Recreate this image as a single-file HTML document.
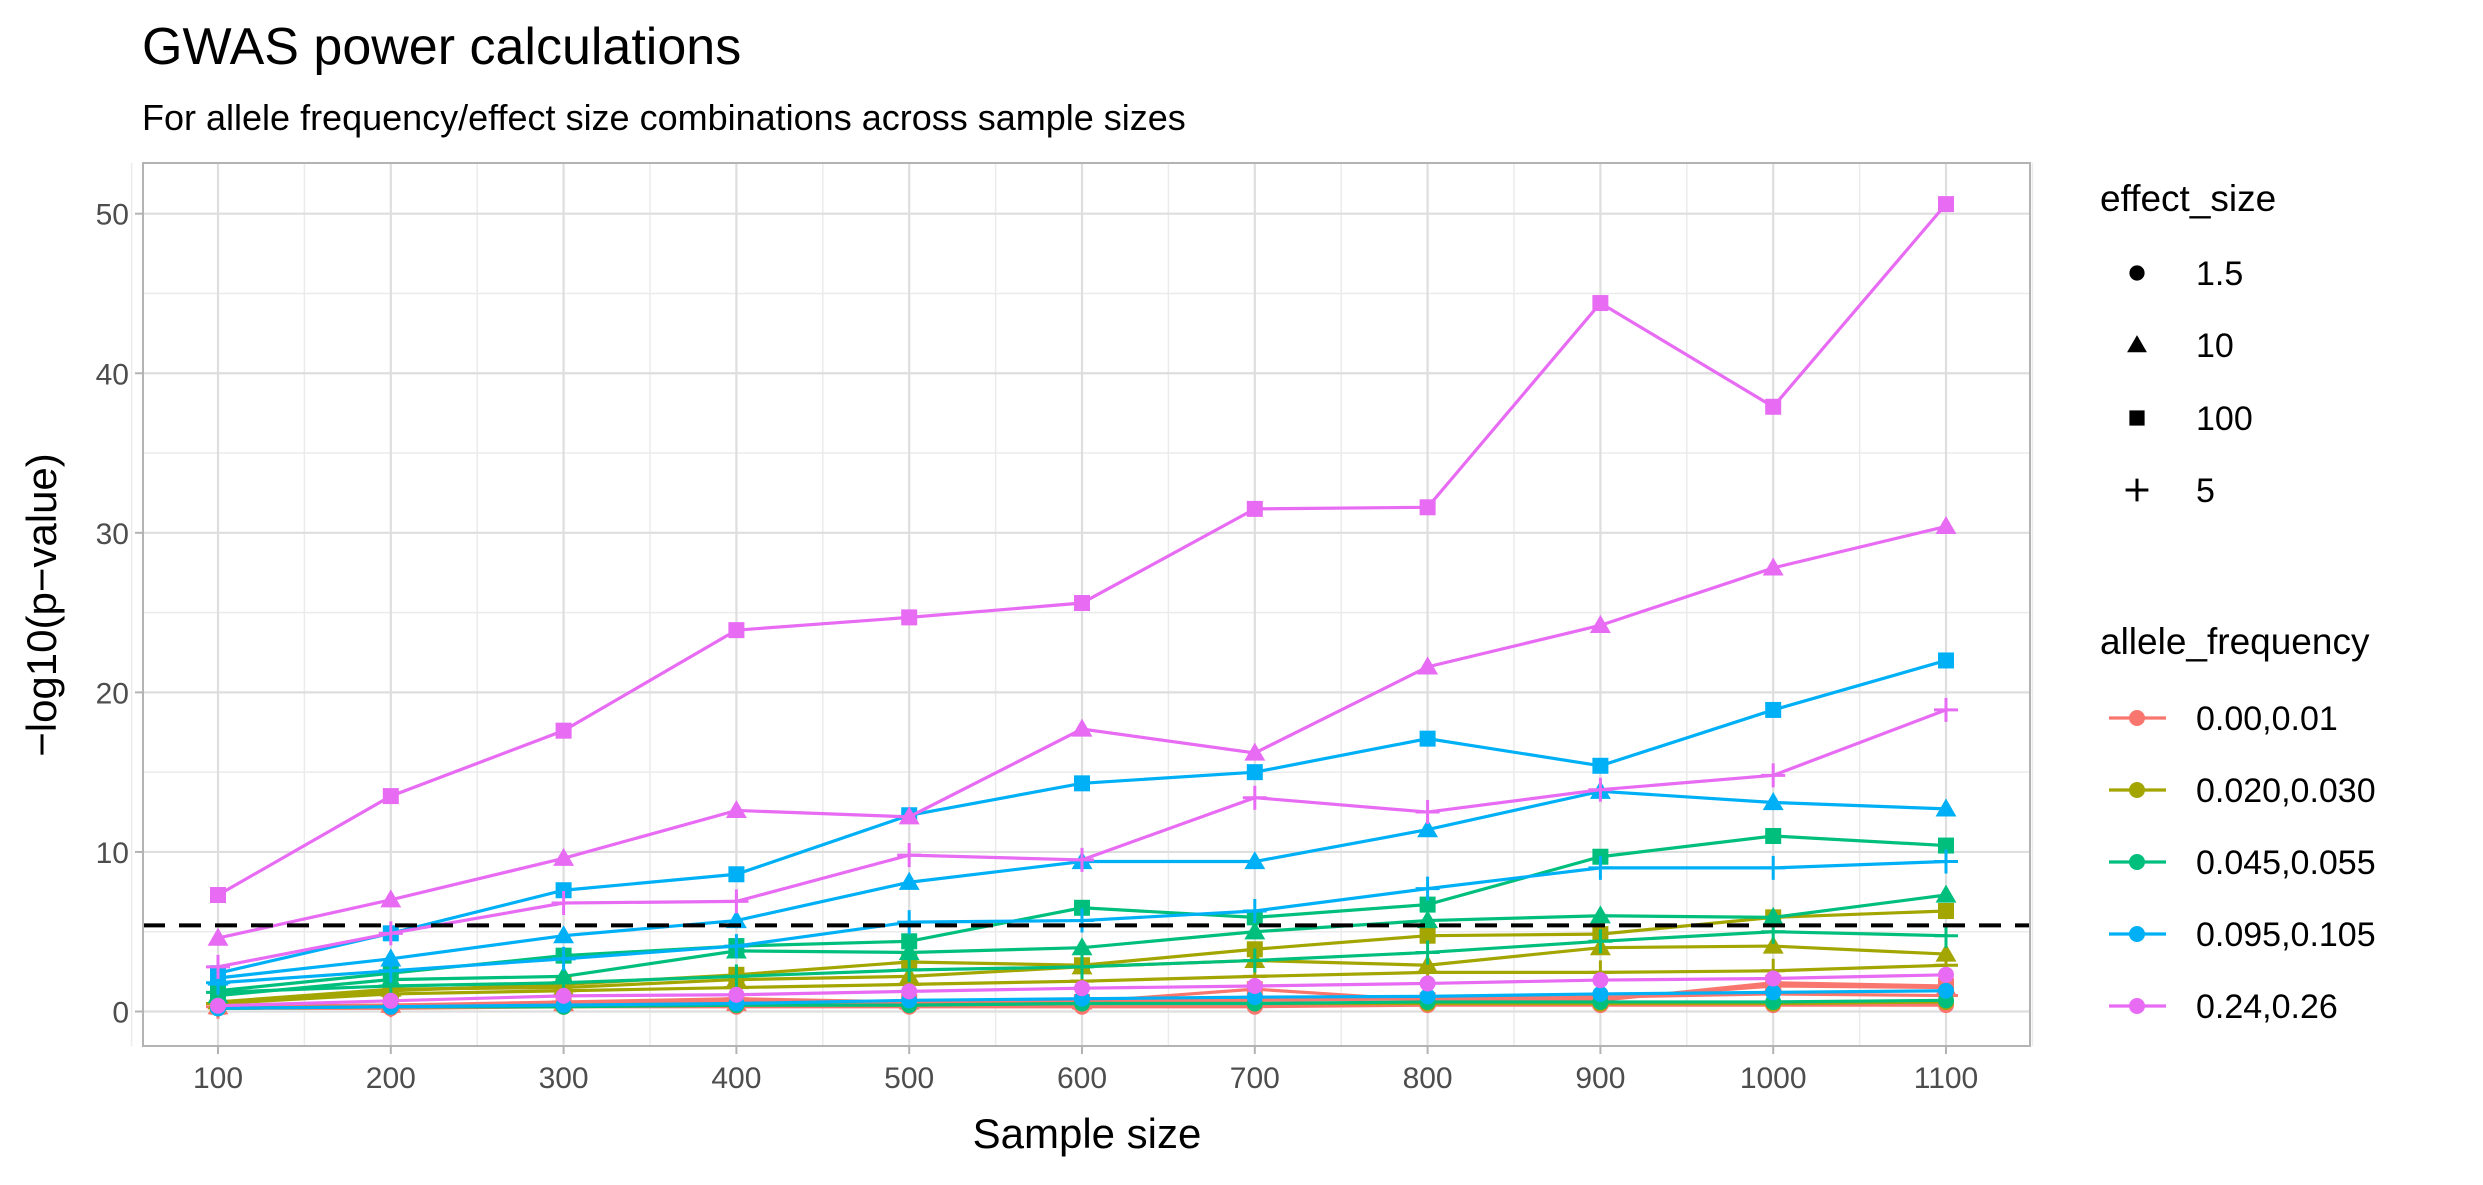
<!DOCTYPE html>
<html><head><meta charset="utf-8"><style>
html,body{margin:0;padding:0;background:#fff;}
svg{display:block;font-family:"Liberation Sans",Arial,sans-serif;}
</style></head><body>
<svg id="chart" width="2483" height="1185" viewBox="0 0 2483 1185" xmlns="http://www.w3.org/2000/svg">
<text x="142" y="64" font-size="52" fill="#000">GWAS power calculations</text>
<text x="142" y="130" font-size="36" fill="#000">For allele frequency/effect size combinations across sample sizes</text>
<g id="plot"></g>
<text x="1087" y="1148" font-size="42" text-anchor="middle" fill="#000">Sample size</text>
<text transform="translate(56,605) rotate(-90)" font-size="42" text-anchor="middle" fill="#000">−log10(p−value)</text>
<g id="legend"></g>
</svg>
<script>
const sampleSizes=[100,200,300,400,500,600,700,800,900,1000,1100];
const freqLabels=["0.00,0.01","0.020,0.030","0.045,0.055","0.095,0.105","0.24,0.26"];
const effectLabels=["1.5","10","100","5"];
const yTicks=[0,10,20,30,40,50];
const xTicks=[100,200,300,400,500,600,700,800,900,1000,1100];
const threshold=5.4;
const red_1_5=[0.2,0.2,0.3,0.3,0.3,0.3,0.3,0.4,0.4,0.4,0.4];
const red_10=[0.3,0.4,0.5,0.5,0.6,0.6,0.7,0.8,0.8,1.6,1.5];
const red_100=[0.3,0.4,0.5,0.6,0.6,0.6,1.4,0.7,0.7,1.8,1.6];
const red_5=[0.3,0.4,0.6,0.8,0.6,0.7,0.8,0.9,0.9,1.1,1.0];
const olive_1_5=[0.2,0.3,0.3,0.4,0.4,0.5,0.5,0.5,0.5,0.5,0.6];
const olive_10=[0.6,1.4,1.5,2.0,2.2,2.8,3.2,2.9,4.0,4.1,3.6];
const olive_100=[0.5,1.3,1.7,2.3,3.1,2.9,3.9,4.75,4.85,5.9,6.3];
const olive_5=[0.5,1.1,1.3,1.5,1.7,1.9,2.2,2.45,2.45,2.55,2.9];
const green_1_5=[0.2,0.3,0.3,0.4,0.4,0.5,0.5,0.6,0.6,0.6,0.7];
const green_10=[1.0,2.0,2.2,3.8,3.7,4.0,5.0,5.7,6.0,5.9,7.3];
const green_100=[1.3,2.4,3.5,4.1,4.4,6.5,5.9,6.7,9.7,11.0,10.4];
const green_5=[1.2,1.6,1.8,2.2,2.6,2.8,3.2,3.7,4.4,5.0,4.75];
const blue_1_5=[0.2,0.3,0.4,0.5,0.7,0.8,0.9,0.95,1.1,1.2,1.3];
const blue_10=[2.1,3.3,4.75,5.7,8.1,9.4,9.4,11.4,13.8,13.1,12.7];
const blue_100=[2.4,4.9,7.6,8.6,12.3,14.3,15.0,17.1,15.4,18.9,22.0];
const blue_5=[1.8,2.55,3.3,4.1,5.6,5.7,6.3,7.7,9.0,9.0,9.4];
const pink_1_5=[0.36,0.67,0.98,1.05,1.26,1.46,1.6,1.76,1.97,2.07,2.3];
const pink_10=[4.6,7.0,9.6,12.6,12.2,17.7,16.2,21.6,24.2,27.8,30.4];
const pink_100=[7.3,13.5,17.6,23.9,24.7,25.6,31.5,31.6,44.4,37.9,50.6];
const pink_5=[2.8,4.9,6.8,6.9,9.8,9.5,13.4,12.5,13.9,14.8,18.9];

const series=[
 [red_1_5,red_10,red_100,red_5],
 [olive_1_5,olive_10,olive_100,olive_5],
 [green_1_5,green_10,green_100,green_5],
 [blue_1_5,blue_10,blue_100,blue_5],
 [pink_1_5,pink_10,pink_100,pink_5]];
const colors=["#F8766D","#A3A500","#00BF7D","#00B0F6","#E76BF3"];
const NS="http://www.w3.org/2000/svg";
const P={l:143,r:2030,t:163,b:1046};
const X=v=>218+(v-100)*(1946-218)/1000;
const Y=v=>1011.5-v*(1011.5-213.7)/50;
function mk(tag,attrs,parent){const e=document.createElementNS(NS,tag);for(const k in attrs)e.setAttribute(k,attrs[k]);parent.appendChild(e);return e;}
const plot=document.getElementById('plot');
mk('rect',{x:P.l,y:P.t,width:P.r-P.l,height:P.b-P.t,fill:'#fff'},plot);
for(let v=5;v<55;v+=10){const l=mk('line',{x1:P.l,x2:P.r,y1:Y(v),y2:Y(v),stroke:'#ebebeb','stroke-width':1.5},plot);

}
for(let v=50;v<=1150;v+=100){const l=mk('line',{x1:X(v),x2:X(v),y1:P.t,y2:P.b,stroke:'#ebebeb','stroke-width':1.5},plot);

}
yTicks.forEach(v=>{const l=mk('line',{x1:P.l,x2:P.r,y1:Y(v),y2:Y(v),stroke:'#dedede','stroke-width':2.2},plot);


mk('line',{x1:P.l-8,x2:P.l,y1:Y(v),y2:Y(v),stroke:'#b3b3b3','stroke-width':2},plot);
const t=mk('text',{x:P.l-14,y:Y(v)+11,'font-size':30,'text-anchor':'end',fill:'#4d4d4d'},plot);t.textContent=v;

});
xTicks.forEach(v=>{const l=mk('line',{x1:X(v),x2:X(v),y1:P.t,y2:P.b,stroke:'#dedede','stroke-width':2.2},plot);


mk('line',{x1:X(v),x2:X(v),y1:P.b,y2:P.b+8,stroke:'#b3b3b3','stroke-width':2},plot);
const t=mk('text',{x:X(v),y:P.b+42,'font-size':30,'text-anchor':'middle',fill:'#4d4d4d'},plot);t.textContent=v;

});
function marker(shape,cx,cy,color,parent,s){
 s=s||1;let e;
 if(shape===0)e=mk('circle',{cx:cx,cy:cy,r:8*s,fill:color},parent);
 else if(shape===1){const h=9.5*s;e=mk('polygon',{points:`${cx},${cy-h*1.1} ${cx+h*1.1},${cy+h*0.8} ${cx-h*1.1},${cy+h*0.8}`,fill:color},parent);}
 else if(shape===2){const h=8*s;e=mk('rect',{x:cx-h,y:cy-h,width:2*h,height:2*h,fill:color},parent);}
 else {const h=12*s;e=mk('path',{d:`M${cx-h},${cy}H${cx+h}M${cx},${cy-h}V${cy+h}`,stroke:color,'stroke-width':3,fill:'none'},parent);}
 return e;}
series.forEach((fs,fi)=>fs.forEach((vals,ei)=>{
 const g=mk('g',{},plot);
 
 
 const pl=mk('polyline',{points:vals.map((v,i)=>X(sampleSizes[i])+','+Y(v)).join(' '),fill:'none',stroke:colors[fi],'stroke-width':3.2},g);
 
 
 vals.forEach((v,i)=>{const m=marker(ei,X(sampleSizes[i]),Y(v),colors[fi],g);
 
 });
}));
const th=mk('line',{x1:P.l,x2:P.r,y1:Y(threshold),y2:Y(threshold),stroke:'#000','stroke-width':4,'stroke-dasharray':'22 14'},plot);


mk('rect',{x:P.l,y:P.t,width:P.r-P.l,height:P.b-P.t,fill:'none',stroke:'#b3b3b3','stroke-width':2},plot);

const lg=document.getElementById('legend');
const t1=mk('text',{x:2100,y:211,'font-size':37,fill:'#000'},lg);t1.textContent='effect_size';


const eY=[273,345,418,490];
effectLabels.forEach((lab,i)=>{const g=mk('g',{},lg);
 
 
 marker(i,2137,eY[i],'#000',g,0.95);
 const t=mk('text',{x:2196,y:eY[i]+12,'font-size':34,fill:'#000'},g);t.textContent=lab;});
const t2=mk('text',{x:2100,y:654,'font-size':37,fill:'#000'},lg);t2.textContent='allele_frequency';


const fY=[718,790,862,934,1006];
freqLabels.forEach((lab,i)=>{const g=mk('g',{},lg);
 
 
 mk('line',{x1:2109,x2:2166,y1:fY[i],y2:fY[i],stroke:colors[i],'stroke-width':3.2},g);
 marker(0,2137,fY[i],colors[i],g);
 const t=mk('text',{x:2196,y:fY[i]+12,'font-size':34,fill:'#000'},g);t.textContent=lab;});
</script>
</body></html>
